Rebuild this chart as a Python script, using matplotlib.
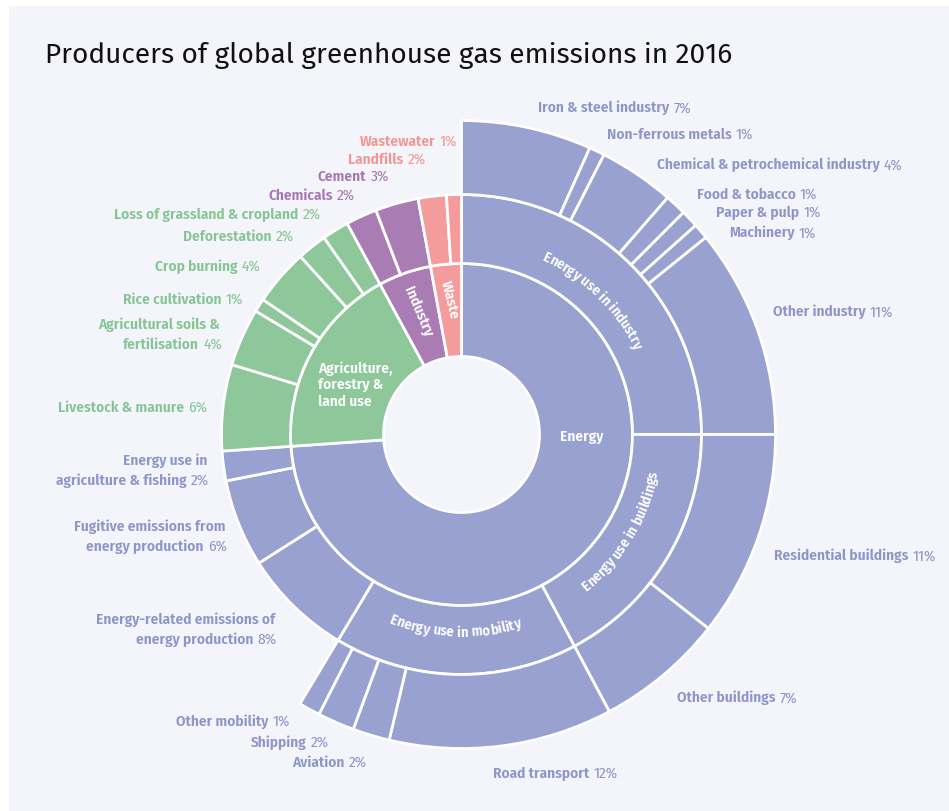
import matplotlib
matplotlib.use("Agg")
import matplotlib.pyplot as plt
from matplotlib.patches import Rectangle
from matplotlib.font_manager import FontProperties, findfont, get_font
import numpy as np

# inner ring: sectors (share of total, %)
sectors = ["Energy", "Agriculture,\nforestry &\nland use", "Industry", "Waste"]
sector_values = [73.9, 18.2, 5.0, 2.9]

# middle ring
energy_names = ["Energy use in industry", "Energy use in buildings", "Energy use in mobility",
                "Energy-related emissions of\nenergy production",
                "Fugitive emissions from\nenergy production",
                "Energy use in\nagriculture & fishing"]
energy_values = [25.0, 17.2, 16.4, 7.4, 5.9, 2.0]
energy_pct = ["", "", "", "8%", "6%", "2%"]

agri_names = ["Livestock & manure", "Agricultural soils &\nfertilisation", "Rice cultivation",
              "Crop burning", "Deforestation", "Loss of grassland & cropland"]
agri_values = [5.8, 3.9, 0.9, 3.8, 2.0, 1.8]
agri_pct = ["6%", "4%", "1%", "4%", "2%", "2%"]

industry_names = ["Chemicals", "Cement"]
industry_values = [2.1, 2.9]
industry_pct = ["2%", "3%"]

waste_names = ["Landfills", "Wastewater"]
waste_values = [1.9, 1.0]
waste_pct = ["2%", "1%"]

# outer ring
ind_energy_names = ["Iron & steel industry", "Non-ferrous metals", "Chemical & petrochemical industry",
                    "Food & tobacco", "Paper & pulp", "Machinery", "Other industry"]
ind_energy_values = [6.7, 0.8, 3.9, 1.1, 0.9, 0.8, 10.8]
ind_energy_pct = ["7%", "1%", "4%", "1%", "1%", "1%", "11%"]

buildings_names = ["Residential buildings", "Other buildings"]
buildings_values = [10.6, 6.6]
buildings_pct = ["11%", "7%"]

mobility_names = ["Road transport", "Aviation", "Shipping", "Other mobility"]
mobility_values = [11.5, 1.9, 1.9, 1.1]
mobility_pct = ["12%", "2%", "2%", "1%"]

# colours
ENERGY = "#99A1D1"
AGRI = "#8DC79A"
IND = "#A97DB4"
WASTE = "#F39C9B"
TXT = {ENERGY: "#8D95C9", AGRI: "#85C493", IND: "#A577B1", WASTE: "#F29695"}
BG = "#F4F5FA"

W, H = 949, 812
cx, cy = 461.5, H - 435.5
r0, r1, r2, r3 = 78, 171, 240, 314

LABEL_FONT = "Fira Sans Condensed"
LFS = 11

# label anchor in reference pixels: (x, y of last line, side)
label_pos = {
    "Iron & steel industry": (538, 108, "left"),
    "Non-ferrous metals": (607, 135, "left"),
    "Chemical & petrochemical industry": (657, 165, "left"),
    "Food & tobacco": (697, 195, "left"),
    "Paper & pulp": (716, 213, "left"),
    "Machinery": (729, 233, "left"),
    "Other industry": (773, 312, "left"),
    "Residential buildings": (774, 556, "left"),
    "Other buildings": (677, 698, "left"),
    "Road transport": (493, 774, "left"),
    "Aviation": (367, 763, "right"),
    "Shipping": (329, 743, "right"),
    "Other mobility": (290, 722, "right"),
    "Energy-related emissions of\nenergy production": (277, 640, "right"),
    "Fugitive emissions from\nenergy production": (227, 547, "right"),
    "Energy use in\nagriculture & fishing": (209, 481, "right"),
    "Livestock & manure": (207, 408, "right"),
    "Agricultural soils &\nfertilisation": (222, 345, "right"),
    "Rice cultivation": (243, 300, "right"),
    "Crop burning": (260, 267, "right"),
    "Deforestation": (294, 237, "right"),
    "Loss of grassland & cropland": (321, 215, "right"),
    "Chemicals": (355, 196, "right"),
    "Cement": (389, 177, "right"),
    "Landfills": (426, 160, "right"),
    "Wastewater": (457, 142, "right"),
}

fig = plt.figure(figsize=(W / 100, H / 100), dpi=100, facecolor="white")
ax = fig.add_axes([0, 0, 1, 1])
ax.add_patch(Rectangle((9, -5), W, H - 2, facecolor=BG, edgecolor="none", zorder=0))

wp = dict(edgecolor="white", linewidth=2)

ax.pie(sector_values, radius=r1, center=(cx, cy), startangle=90, counterclock=False,
       colors=[ENERGY, AGRI, IND, WASTE], wedgeprops=dict(width=r1 - r0, **wp))

mid_values = energy_values + agri_values + industry_values + waste_values
mid_colors = ([ENERGY] * len(energy_values) + [AGRI] * len(agri_values)
              + [IND] * len(industry_values) + [WASTE] * len(waste_values))
ax.pie(mid_values, radius=r2, center=(cx, cy), startangle=90, counterclock=False,
       colors=mid_colors, wedgeprops=dict(width=r2 - r1, **wp))

outer_values = ind_energy_values + buildings_values + mobility_values
outer_values = outer_values + [100 - sum(outer_values)]
wedges, _ = ax.pie(outer_values, radius=r3, center=(cx, cy), startangle=90, counterclock=False,
                   colors=[ENERGY] * len(outer_values), wedgeprops=dict(width=r3 - r2, **wp))
wedges[-1].set_visible(False)

ax.set_xlim(0, W)
ax.set_ylim(0, H)
ax.set_aspect("equal")
ax.axis("off")

# outside labels
def outer_label(name, pct, color):
    x, y, side = label_pos[name]
    lines = name.split("\n")
    y = H - y
    step = 20
    kw = dict(family=LABEL_FONT, fontsize=LFS, color=color)
    if side == "left":
        for k, line in enumerate(lines[:-1]):
            ax.text(x, y + step * (len(lines) - 1 - k), line, ha="left", va="center",
                    weight="semibold", **kw)
        t = ax.text(x, y, lines[-1], ha="left", va="center", weight="semibold", **kw)
        ax.annotate(pct, xy=(1, 0), xycoords=t, xytext=(3, 0), textcoords="offset points",
                    ha="left", va="bottom", weight="normal", **kw)
    else:
        for k, line in enumerate(lines[:-1]):
            ax.text(x - 2, y + step * (len(lines) - 1 - k), line, ha="right", va="center",
                    weight="semibold", **kw)
        p = ax.text(x, y, pct, ha="right", va="center", weight="normal", **kw)
        ax.annotate(lines[-1], xy=(0, 0), xycoords=p, xytext=(-3, 0), textcoords="offset points",
                    ha="right", va="bottom", weight="semibold", **kw)

groups = [
    (energy_names[3:], energy_pct[3:], ENERGY),
    (agri_names, agri_pct, AGRI),
    (industry_names, industry_pct, IND),
    (waste_names, waste_pct, WASTE),
    (ind_energy_names, ind_energy_pct, ENERGY),
    (buildings_names, buildings_pct, ENERGY),
    (mobility_names, mobility_pct, ENERGY),
]
for names, pcts, col in groups:
    for n, p in zip(names, pcts):
        outer_label(n, p, TXT[col])

# inner labels
ikw = dict(family=LABEL_FONT, fontsize=LFS, color="white", weight="semibold")
ax.text(582, H - 437, sectors[0], ha="center", va="center", **ikw)
ax.text(318, H - 385, sectors[1], ha="left", va="center", linespacing=1.2, **ikw)
ax.text(418, H - 312, sectors[2], ha="center", va="center", rotation=-67,
        rotation_mode="anchor", **ikw)
ax.text(450, H - 300, sectors[3], ha="center", va="center", rotation=-76,
        rotation_mode="anchor", **ikw)

# curved labels along the middle ring
font = get_font(findfont(FontProperties(family=LABEL_FONT, weight="semibold")))
font.set_size(10.5, 100)

def arc_text(s, mid, r, clockwise):
    adv = []
    for c in s:
        g = font.load_char(ord(c))
        adv.append(g.linearHoriAdvance / 65536)
    adv = np.array(adv)
    offs = np.cumsum(adv) - adv / 2 - adv.sum() / 2
    for c, o in zip(s, offs):
        if c == " ":
            continue
        if clockwise:
            th = mid + np.degrees(o / r)
            rot = -th
        else:
            th = mid - np.degrees(o / r)
            rot = 180 - th
        x = cx + r * np.sin(np.radians(th))
        y = cy + r * np.cos(np.radians(th))
        ax.text(x, y, c, rotation=rot, ha="center", va="center", rotation_mode="anchor",
                family=LABEL_FONT, fontsize=10.5, color="white", weight="semibold")

arc_text(energy_names[0], 44, 197, True)
arc_text(energy_names[1], 121, 196, False)
arc_text(energy_names[2], 182, 197, False)

ax.text(45, H - 55, "Producers of global greenhouse gas emissions in 2016", ha="left",
        va="center", family="Fira Sans", fontsize=20.2, color="#111111")

fig.savefig("out.png", dpi=100, facecolor="white")
